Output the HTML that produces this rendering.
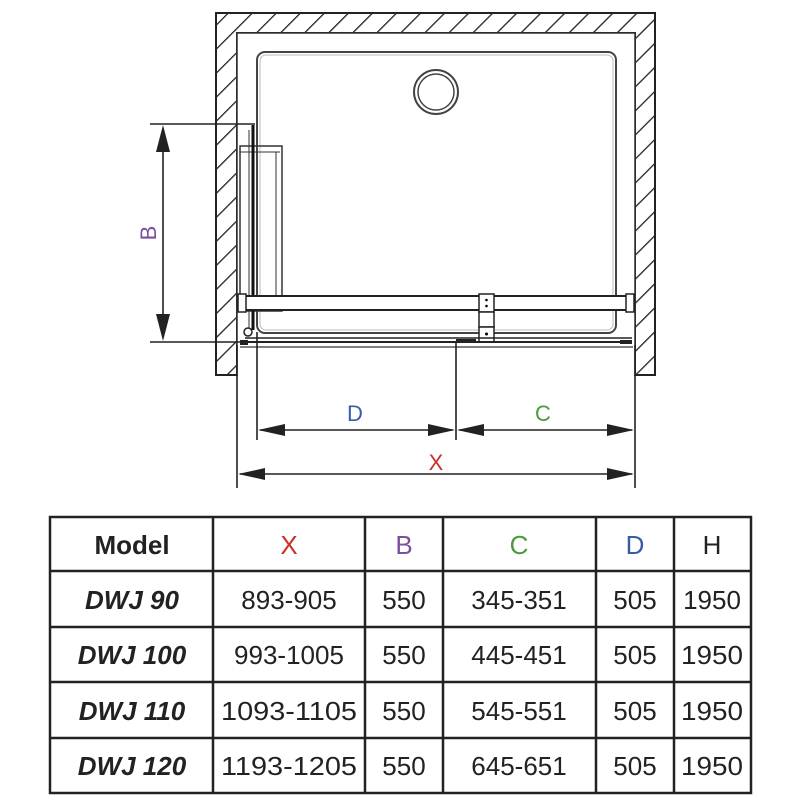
<!DOCTYPE html>
<html><head><style>
body{margin:0;background:#fff;width:800px;height:800px;overflow:hidden;font-family:"Liberation Sans",sans-serif}
</style></head><body>
<svg width="800" height="800" viewBox="0 0 800 800" xmlns="http://www.w3.org/2000/svg">
<defs>
<pattern id="h" patternUnits="userSpaceOnUse" width="17" height="17" patternTransform="rotate(45)">
<line x1="0" y1="0" x2="0" y2="17" stroke="#222" stroke-width="2.6"/>
</pattern>
</defs>
<path d="M216 13H655V375H635V33H237V375H216Z" fill="url(#h)" stroke="#222" stroke-width="2"/>
<path d="M237 375V33H635V375" fill="#fff" stroke="#333" stroke-width="1.5"/>
<!-- tray -->
<rect x="257" y="52" width="359" height="281" rx="8" fill="none" stroke="#444" stroke-width="2"/>
<rect x="260" y="55" width="353" height="275" rx="6" fill="none" stroke="#bbb" stroke-width="1"/>
<circle cx="436" cy="92" r="22" fill="none" stroke="#444" stroke-width="2"/>
<circle cx="436" cy="92" r="18" fill="none" stroke="#444" stroke-width="1.5"/>
<!-- side door -->
<rect x="240" y="146" width="42" height="165" fill="none" stroke="#333" stroke-width="1.5"/>
<line x1="240" y1="152" x2="280" y2="152" stroke="#333"/>
<line x1="276" y1="152" x2="276" y2="310" stroke="#333"/>
<line x1="253" y1="125" x2="253" y2="330" stroke="#111" stroke-width="3"/>
<line x1="249" y1="130" x2="249" y2="330" stroke="#333" stroke-width="1"/>
<!-- top bar -->
<rect x="240" y="296" width="393" height="14" fill="#fff" stroke="#222" stroke-width="2"/>
<rect x="238" y="294" width="8" height="18" fill="#fff" stroke="#222" stroke-width="1.5"/>
<rect x="626" y="294" width="8" height="18" fill="#fff" stroke="#222" stroke-width="1.5"/>
<rect x="479" y="294" width="15" height="18" fill="#fff" stroke="#222" stroke-width="1.5"/>
<rect x="479" y="312" width="15" height="15" fill="#fff" stroke="#222" stroke-width="1.5"/>
<rect x="479" y="327" width="15" height="15" fill="#fff" stroke="#222" stroke-width="1.5"/>
<circle cx="486.5" cy="300" r="1.3"/><circle cx="486.5" cy="306" r="1.3"/><circle cx="486.5" cy="334" r="1.5"/>
<!-- bottom rails -->
<line x1="245" y1="338" x2="632" y2="338" stroke="#222" stroke-width="1.5"/>
<line x1="245" y1="342" x2="632" y2="342" stroke="#222" stroke-width="2"/>
<line x1="240" y1="347" x2="633" y2="347" stroke="#555" stroke-width="1.5"/>
<rect x="456" y="339" width="20" height="4" fill="#222"/>
<rect x="620" y="340" width="12" height="4" fill="#222"/>
<circle cx="248" cy="332" r="4" fill="#fff" stroke="#222" stroke-width="1.5"/>
<rect x="240" y="340" width="8" height="5" fill="#222"/>
<!-- dimension lines -->
<g stroke="#222" stroke-width="1.6" fill="none">
<line x1="150" y1="124" x2="255" y2="124"/>
<line x1="150" y1="342" x2="248" y2="342"/>
<line x1="163" y1="130" x2="163" y2="336"/>
<line x1="237" y1="345" x2="237" y2="488"/>
<line x1="257" y1="332" x2="257" y2="440"/>
<line x1="456" y1="342" x2="456" y2="440"/>
<line x1="635" y1="345" x2="635" y2="488"/>
<line x1="260" y1="430" x2="453" y2="430"/>
<line x1="459" y1="430" x2="632" y2="430"/>
<line x1="240" y1="474" x2="632" y2="474"/>
</g>
<g fill="#222">
<path d="M163 125L156 152H170Z"/><path d="M163 341L156 314H170Z"/>
<path d="M258 430L285 424V436Z"/><path d="M455 430L428 424V436Z"/>
<path d="M457 430L484 424V436Z"/><path d="M634 430L607 424V436Z"/>
<path d="M238 474L265 468V480Z"/><path d="M634 474L607 468V480Z"/>
</g>
<g font-family="Liberation Sans, sans-serif" font-size="22" text-anchor="middle">
<text x="0" y="0" fill="#7a4fa0" transform="translate(156,233) rotate(-90)">B</text>
<text x="355" y="421" fill="#3a5ba8">D</text>
<text x="543" y="421" fill="#4a9a3a">C</text>
<text x="436" y="470" fill="#c8302a">X</text>
</g>
<!-- table -->
<g stroke="#222" stroke-width="2.5" fill="none">
<rect x="50" y="517" width="701" height="276"/>
<line x1="50" y1="571" x2="751" y2="571"/>
<line x1="50" y1="627" x2="751" y2="627"/>
<line x1="50" y1="682" x2="751" y2="682"/>
<line x1="50" y1="738" x2="751" y2="738"/>
<line x1="213" y1="517" x2="213" y2="793"/>
<line x1="365" y1="517" x2="365" y2="793"/>
<line x1="443" y1="517" x2="443" y2="793"/>
<line x1="596" y1="517" x2="596" y2="793"/>
<line x1="674" y1="517" x2="674" y2="793"/>
</g>
<g font-family="Liberation Sans, sans-serif" font-size="26" text-anchor="middle" fill="#222">
<text x="132" y="554" font-weight="bold">Model</text>
<text x="289" y="554" fill="#c8302a">X</text>
<text x="404" y="554" fill="#7a4fa0">B</text>
<text x="519" y="554" fill="#4a9a3a">C</text>
<text x="635" y="554" fill="#3a5ba8">D</text>
<text x="712" y="554">H</text>
<g font-weight="bold" font-style="italic">
<text x="132" y="609">DWJ 90</text>
<text x="132" y="664">DWJ 100</text>
<text x="132" y="720">DWJ 110</text>
<text x="132" y="775">DWJ 120</text>
</g>
<text x="289" y="609">893-905</text><text x="404" y="609">550</text><text x="519" y="609">345-351</text><text x="635" y="609">505</text><text x="712" y="609">1950</text>
<text x="289" y="664">993-1005</text><text x="404" y="664">550</text><text x="519" y="664">445-451</text><text x="635" y="664">505</text><text x="712" y="664" textLength="62" lengthAdjust="spacingAndGlyphs">1950</text>
<text x="289" y="720" textLength="136" lengthAdjust="spacingAndGlyphs">1093-1105</text><text x="404" y="720">550</text><text x="519" y="720">545-551</text><text x="635" y="720">505</text><text x="712" y="720" textLength="62" lengthAdjust="spacingAndGlyphs">1950</text>
<text x="289" y="775" textLength="136" lengthAdjust="spacingAndGlyphs">1193-1205</text><text x="404" y="775">550</text><text x="519" y="775">645-651</text><text x="635" y="775">505</text><text x="712" y="775" textLength="62" lengthAdjust="spacingAndGlyphs">1950</text>
</g>
</svg>
</body></html>
